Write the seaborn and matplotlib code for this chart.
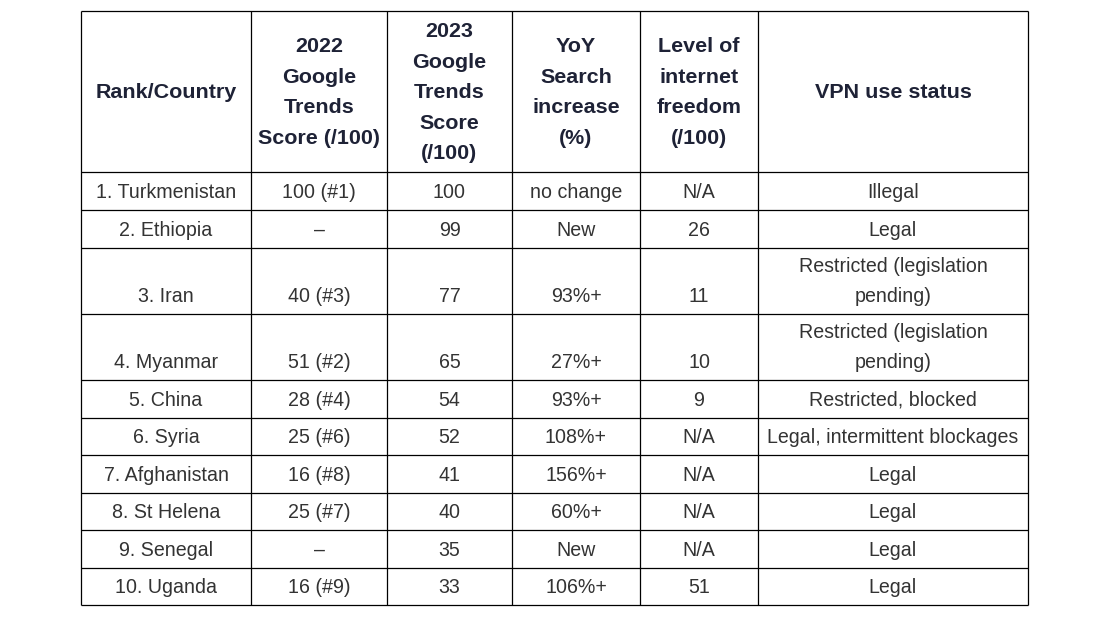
import matplotlib
matplotlib.use("Agg")
import matplotlib.pyplot as plt
import seaborn as sns
import numpy as np

# ---- data ----
headers = ["Rank/Country", "2022\nGoogle\nTrends\nScore (/100)", "2023\nGoogle\nTrends\nScore\n(/100)",
           "YoY\nSearch\nincrease\n(%)", "Level of\ninternet\nfreedom\n(/100)", "VPN use status"]
countries = ["1. Turkmenistan", "2. Ethiopia", "3. Iran", "4. Myanmar", "5. China", "6. Syria",
             "7. Afghanistan", "8. St Helena", "9. Senegal", "10. Uganda"]
score_2022 = ["100 (#1)", "\u2013", "40 (#3)", "51 (#2)", "28 (#4)", "25 (#6)", "16 (#8)", "25 (#7)", "\u2013", "16 (#9)"]
score_2023 = [100, 99, 77, 65, 54, 52, 41, 40, 35, 33]
yoy = ["no change", "New", "93%+", "27%+", "93%+", "108%+", "156%+", "60%+", "New", "106%+"]
freedom = ["N/A", "26", "11", "10", "9", "N/A", "N/A", "N/A", "N/A", "51"]
vpn_status = ["Illegal", "Legal", "Restricted (legislation\npending)", "Restricted (legislation\npending)",
              "Restricted, blocked", "Legal, intermittent blockages", "Legal", "Legal", "Legal", "Legal"]

# ---- layout (pixels) ----
col_widths = [170, 136, 125, 128, 118, 270]
header_h = 161
row_h = [38, 38, 66, 66, 38, 37, 38, 37, 38, 37]
x0, y0 = 81, 11

sns.set_theme(style="white")
plt.rcParams['font.family'] = ['Liberation Sans', 'DejaVu Sans']

W, H = 1111, 622
fig = plt.figure(figsize=(W / 100, H / 100), dpi=100)
ax = fig.add_axes([0, 0, 1, 1])
ax.set_xlim(0, W)
ax.set_ylim(H, 0)
ax.axis("off")

col_edges = x0 + np.concatenate([[0], np.cumsum(col_widths)])
row_edges = y0 + np.concatenate([[0, header_h], header_h + np.cumsum(row_h)])

# grid lines
ax.hlines(row_edges, col_edges[0], col_edges[-1], color="black", lw=0.9)
ax.vlines(col_edges, row_edges[0], row_edges[-1], color="black", lw=0.9)

head_px = 21.5
body_px = 19.7
head_pt = head_px * 0.72
body_pt = body_px * 0.72
head_color = "#1e2236"
body_color = "#333333"

# header
cy = (row_edges[0] + row_edges[1]) / 2 - 1
for j, h in enumerate(headers):
    cx = (col_edges[j] + col_edges[j + 1]) / 2
    lines = h.split("\n")
    n = len(lines)
    for i, ln in enumerate(lines):
        yc = cy + (i - (n - 1) / 2) * 30.5
        ax.text(cx, yc + 0.716 * head_px / 2, ln, ha="center", va="baseline",
                fontsize=head_pt, fontweight="bold", color=head_color)

# body
columns = [countries, score_2022, [str(v) for v in score_2023], yoy, freedom, vpn_status]
for r in range(len(countries)):
    bottom = row_edges[r + 2]
    for j, col in enumerate(columns):
        cx = (col_edges[j] + col_edges[j + 1]) / 2
        lines = col[r].split("\n")
        n = len(lines)
        for i, ln in enumerate(lines):
            base = bottom - 12 - (n - 1 - i) * 29.5
            ax.text(cx, base, ln, ha="center", va="baseline", fontsize=body_pt, color=body_color)

fig.savefig("out.png", dpi=100, facecolor="white")
